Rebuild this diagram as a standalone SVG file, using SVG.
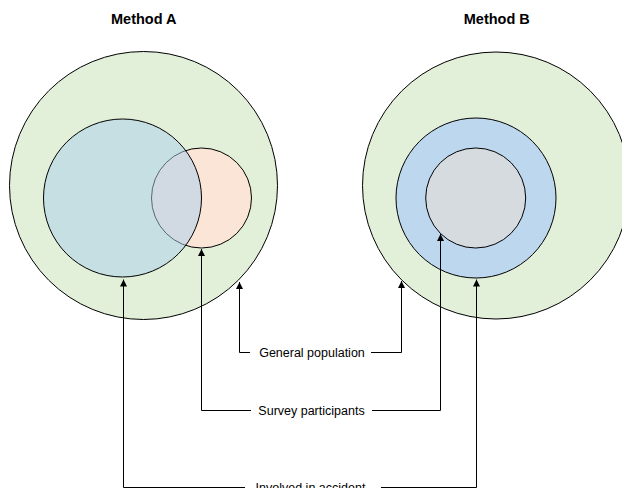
<svg xmlns="http://www.w3.org/2000/svg" width="622" height="488" viewBox="0 0 622 488">
<defs>
<marker id="arr" viewBox="0 0 10 10" refX="10" refY="5" markerWidth="7" markerHeight="8" markerUnits="userSpaceOnUse" orient="auto">
<path d="M0,0 L10,5 L0,10 z" fill="#000"/>
</marker>
</defs>
<style>
.c{stroke:#000;stroke-width:1}
.t{font-family:"Liberation Sans",Arial,sans-serif;font-size:12.5px;fill:#000;text-anchor:middle}
.h{font-family:"Liberation Sans",Arial,sans-serif;font-size:14.5px;font-weight:bold;fill:#000;text-anchor:middle}
.l{fill:none;stroke:#000;stroke-width:1;marker-end:url(#arr)}
</style>
<rect width="622" height="488" fill="#fff"/>
<g id="methodA">
<text class="h" x="143.8" y="24">Method A</text>
<circle id="A-general" class="c" cx="143.5" cy="185.5" r="134" fill="#e2efd9"/>
<circle id="A-survey" class="c" cx="201.5" cy="198" r="50" fill="#fbe5d6"/>
<circle id="A-accident" class="c" cx="122.5" cy="198" r="79" fill="#a8cfed" fill-opacity="0.5"/>
</g>
<g id="methodB">
<text class="h" x="496.8" y="24">Method B</text>
<circle id="B-general" class="c" cx="496" cy="185.5" r="133.5" fill="#e2efd9"/>
<circle id="B-accident" class="c" cx="476" cy="198" r="80" fill="#bdd7ee"/>
<circle id="B-survey" class="c" cx="475.7" cy="198" r="50" fill="#d6dbe0"/>
</g>
<g id="labels">
<text class="t" x="312" y="357">General population</text>
<text class="t" x="311.5" y="415">Survey participants</text>
<text class="t" x="310.5" y="492">Involved in accident</text>
</g>
<g id="connectors">
<polyline class="l" points="250,352.5 239.5,352.5 239.5,282"/>
<polyline class="l" points="371,352.5 401.5,352.5 401.5,281"/>
<polyline class="l" points="251,410.5 201.5,410.5 201.5,249"/>
<polyline class="l" points="372,410.5 440.5,410.5 440.5,234"/>
<polyline class="l" points="245,487.5 123.5,487.5 123.5,279.5"/>
<polyline class="l" points="381,487.5 476.5,487.5 476.5,279.5"/>
</g>
</svg>
